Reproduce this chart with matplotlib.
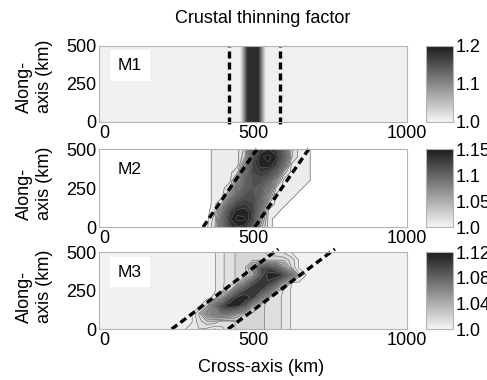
import numpy as np
import matplotlib
matplotlib.use("Agg")
import matplotlib.pyplot as plt
from matplotlib.colors import LinearSegmentedColormap, Normalize
from matplotlib.cm import ScalarMappable

plt.rcParams['font.family'] = ['Liberation Sans', 'DejaVu Sans']

# M1: thinning factor profile across the axis (uniform along axis)
m1_x = [0, 450, 458, 466, 474, 482, 500, 518, 526, 534, 542, 550, 1000]
m1_profile = [1.0, 1.0, 1.01, 1.06, 1.12, 1.18, 1.19, 1.18, 1.12, 1.06, 1.01, 1.0, 1.0]
m1_y = [0, 500]
m1_dash_x = [422, 588]

# M2: excess thinning (%) on a coarse grid
m2_x = [0, 300, 325, 350, 375, 400, 425, 450, 475, 500, 525, 550, 575, 600, 625, 650, 675, 700, 1000]
m2_y = [0, 50, 100, 150, 200, 250, 300, 350, 400, 450, 500]
m2_excess = [
    [0, 0, 0, 0.2, 1.6, 8.3, 12.7, 13.9, 13.6, 10.6, 3.5, 0.7, 0.1, 0, 0, 0, 0, 0, 0],
    [0, 0, 0, 0.2, 1.3, 8.3, 13.8, 15.3, 15.1, 12.3, 5.0, 0.7, 0.1, 0, 0, 0, 0, 0, 0],
    [0, 0, 0, 0.2, 0.8, 6.4, 12.7, 14.7, 14.7, 12.8, 6.8, 0.8, 0.7, 0, 0, 0, 0, 0, 0],
    [0, 0, 0, 0, 0.7, 2.2, 9.1, 12.2, 13.0, 12.2, 9.1, 2.2, 0.7, 0.7, 0, 0, 0, 0, 0],
    [0, 0, 0, 0, 0.7, 0.7, 4.9, 9.7, 11.3, 11.3, 9.8, 5.2, 0.7, 0.7, 0.7, 0, 0, 0, 0],
    [0, 0, 0, 0, 0.7, 0.7, 1.8, 7.7, 10.3, 11.0, 10.3, 7.7, 1.8, 0.7, 0.7, 0.7, 0, 0, 0],
    [0, 0, 0, 0, 0.7, 0.7, 0.7, 5.2, 9.8, 11.3, 11.3, 9.7, 4.9, 0.7, 0.7, 0.7, 0.7, 0, 0],
    [0, 0, 0, 0, 0.7, 0.7, 0.7, 1.9, 8.6, 12.1, 13.0, 12.4, 9.4, 2.5, 0.7, 0.7, 0.7, 0, 0],
    [0, 0, 0, 0, 0.7, 0.7, 0.7, 0.7, 5.6, 12.3, 14.7, 14.8, 13.2, 7.4, 0.9, 0.7, 0.7, 0, 0],
    [0, 0, 0, 0, 0.7, 0.7, 0.7, 0.7, 3.1, 11.4, 14.8, 15.4, 14.3, 9.9, 2.1, 0.7, 0.7, 0, 0],
    [0, 0, 0, 0, 0.7, 0.7, 0.7, 0.7, 2.4, 9.8, 13.2, 14.0, 13.2, 9.8, 2.4, 0.7, 0.7, 0, 0],
]
m2_dash_x0 = [338, 506]
m2_dash_x1 = [513, 681]
m2_dash_y = [0, 500]

# M3: excess thinning (%) on a coarse grid
m3_x = [0, 225, 250, 275, 300, 325, 350, 375, 400, 425, 450, 475, 500, 525, 550, 575, 600, 625, 650, 675, 700, 725, 750, 1000]
m3_y = [0, 50, 100, 150, 200, 250, 300, 350, 400, 450, 500]
m3_excess = [
    [0.4, 0.4, 0.4, 0.4, 0.8, 1.0, 0.9, 0.45, 0.9, 1.3, 1.6, 1.8, 1.8, 1.6, 1.4, 1.2, 0.9, 0.45, 0.4, 0.4, 0.4, 0.4, 0.4, 0.4],
    [0.4, 0.4, 0.4, 0.4, 0.4, 1.3, 1.9, 1.9, 1.25, 1.3, 1.6, 1.8, 1.8, 1.6, 1.4, 1.2, 0.9, 0.45, 0.4, 0.4, 0.4, 0.4, 0.4, 0.4],
    [0.4, 0.4, 0.4, 0.4, 0.4, 1.6, 5.2, 6.7, 7.0, 6.4, 4.3, 1.8, 1.8, 1.6, 1.4, 1.2, 0.9, 0.45, 0.4, 0.4, 0.4, 0.4, 0.4, 0.4],
    [0.4, 0.4, 0.4, 0.4, 0.4, 0.4, 1.3, 7.0, 10.9, 11.9, 11.7, 9.2, 3.2, 1.6, 1.4, 1.2, 0.9, 0.45, 0.4, 0.4, 0.4, 0.4, 0.4, 0.4],
    [0.4, 0.4, 0.4, 0.4, 0.4, 0.4, 0.4, 0.6, 4.5, 9.8, 11.7, 11.8, 10.6, 5.9, 1.4, 1.2, 0.9, 0.45, 0.4, 0.4, 0.4, 0.4, 0.4, 0.4],
    [0.4, 0.4, 0.4, 0.4, 0.4, 0.4, 0.4, 0.45, 0.9, 1.9, 7.8, 10.4, 11.0, 10.3, 7.6, 1.8, 0.9, 0.45, 0.4, 0.4, 0.4, 0.4, 0.4, 0.4],
    [0.4, 0.4, 0.4, 0.4, 0.4, 0.4, 0.4, 0.45, 0.9, 1.3, 1.6, 5.6, 9.7, 10.9, 10.7, 8.9, 3.9, 0.5, 0.4, 0.4, 0.4, 0.4, 0.4, 0.4],
    [0.4, 0.4, 0.4, 0.4, 0.4, 0.4, 0.4, 0.45, 0.9, 1.3, 1.6, 1.8, 3.5, 9.3, 11.7, 11.9, 11.0, 6.8, 1.2, 0.4, 0.4, 0.4, 0.4, 0.4],
    [0.4, 0.4, 0.4, 0.4, 0.4, 0.4, 0.4, 0.45, 0.9, 1.3, 1.6, 2.0, 5.0, 9.0, 10.0, 8.5, 4.5, 1.5, 0.4, 0.4, 0.4, 0.4, 0.4, 0.4],
    [0.4, 0.4, 0.4, 0.4, 0.4, 0.4, 0.4, 0.45, 0.9, 1.3, 1.6, 1.8, 1.8, 1.6, 1.6, 1.8, 1.8, 1.3, 0.4, 0.4, 0.4, 0.4, 0.4, 0.4],
    [0.4, 0.4, 0.4, 0.4, 0.4, 0.4, 0.4, 0.45, 0.9, 1.3, 1.6, 1.8, 1.8, 1.6, 1.4, 1.2, 0.9, 0.45, 0.4, 0.4, 0.4, 0.4, 0.4, 0.4],
]
m3_dash_x0 = [236, 419]
m3_dash_x1 = [582, 766]
m3_dash_y = [0, 520]

labels = ['M1', 'M2', 'M3']
cbar_ranges = [(1.0, 1.2), (1.0, 1.15), (1.0, 1.12)]
cbar_ticks = [[1.0, 1.1, 1.2], [1.0, 1.05, 1.1, 1.15], [1.0, 1.04, 1.08, 1.12]]
cbar_ticklabels = [['1.0', '1.1', '1.2'], ['1.0', '1.05', '1.1', '1.15'], ['1.0', '1.04', '1.08', '1.12']]

cmap = LinearSegmentedColormap.from_list('thin', ['#f5f5f5', '#1c1c1c'])
frame_col = '#b4b4b4'
dash_style = (0, (2.1, 1.2))

fig = plt.figure(figsize=(4.87, 3.8), dpi=100)
ax_rects = [[0.2033, 0.679, 0.6324, 0.2],
            [0.2033, 0.4026, 0.6324, 0.205],
            [0.2033, 0.134, 0.6324, 0.2026]]
cb_rects = [[0.8747, r[1], 0.0554, r[3]] for r in ax_rects]
ylab_y = [0.6, 0.56, 0.56]

for i in range(3):
    ax = fig.add_axes(ax_rects[i])
    vmin, vmax = cbar_ranges[i]
    norm = Normalize(vmin=vmin, vmax=vmax)
    if i == 0:
        z = np.tile(np.array(m1_profile), (len(m1_y), 1))
        ax.contourf(m1_x, m1_y, z, levels=np.linspace(1.0, 1.2, 21), cmap=cmap, norm=norm)
        for xd in m1_dash_x:
            ax.plot([xd, xd], [-12, 500], color='black', lw=2.4, ls=dash_style, clip_on=False)
    elif i == 1:
        z = 1 + np.array(m2_excess) / 100.0
        lev = [1.004] + list(np.round(np.arange(1.01, 1.151, 0.01), 3)) + [1.17]
        ax.contourf(m2_x, m2_y, z, levels=lev, cmap=cmap, norm=norm)
        ax.contour(m2_x, m2_y, z, levels=lev[:-1], colors='#606060', linewidths=0.45)
        for x0, x1 in zip(m2_dash_x0, m2_dash_x1):
            ax.plot([x0, x1], m2_dash_y, color='black', lw=2.4, ls=dash_style, clip_on=False)
    else:
        z = 1 + np.array(m3_excess) / 100.0
        lev = [1.0, 1.005, 1.01, 1.015] + list(np.round(np.arange(1.02, 1.121, 0.01), 3)) + [1.14]
        ax.contourf(m3_x, m3_y, z, levels=lev, cmap=cmap, norm=norm)
        ax.contour(m3_x, m3_y, z, levels=lev[1:-1], colors='#707070', linewidths=0.45)
        for x0, x1 in zip(m3_dash_x0, m3_dash_x1):
            ax.plot([x0, x1], m3_dash_y, color='black', lw=2.4, ls=dash_style, clip_on=False)

    ax.set_xlim(0, 1000)
    ax.set_ylim(0, 500)
    ax.set_xticks([0, 500, 1000])
    ax.set_yticks([0, 250, 500])
    ax.tick_params(length=0, labelsize=13, pad=2)
    ax.get_xticklabels()[0].set_horizontalalignment('left')
    for s in ax.spines.values():
        s.set_color(frame_col)
        s.set_linewidth(0.8)
    ax.set_ylabel('Along-\naxis (km)', fontsize=13, multialignment='left')
    ax.yaxis.set_label_coords(-0.15, ylab_y[i])
    ax.text(0.1, 0.74, labels[i], transform=ax.transAxes, fontsize=12.5,
            ha='center', va='center',
            bbox=dict(boxstyle='square,pad=0.45', fc='white', ec='none'))

    cax = fig.add_axes(cb_rects[i])
    sm = ScalarMappable(norm=norm, cmap=cmap)
    cb = fig.colorbar(sm, cax=cax, ticks=cbar_ticks[i])
    cb.ax.set_yticklabels(cbar_ticklabels[i])
    cb.ax.tick_params(length=0, labelsize=13, pad=2)
    cb.outline.set_edgecolor(frame_col)
    cb.outline.set_linewidth(0.8)

fig.text(0.54, 0.952, 'Crustal thinning factor', ha='center', va='center', fontsize=13)
fig.text(0.536, 0.034, 'Cross-axis (km)', ha='center', va='center', fontsize=13)

fig.savefig('out.png', dpi=100)
